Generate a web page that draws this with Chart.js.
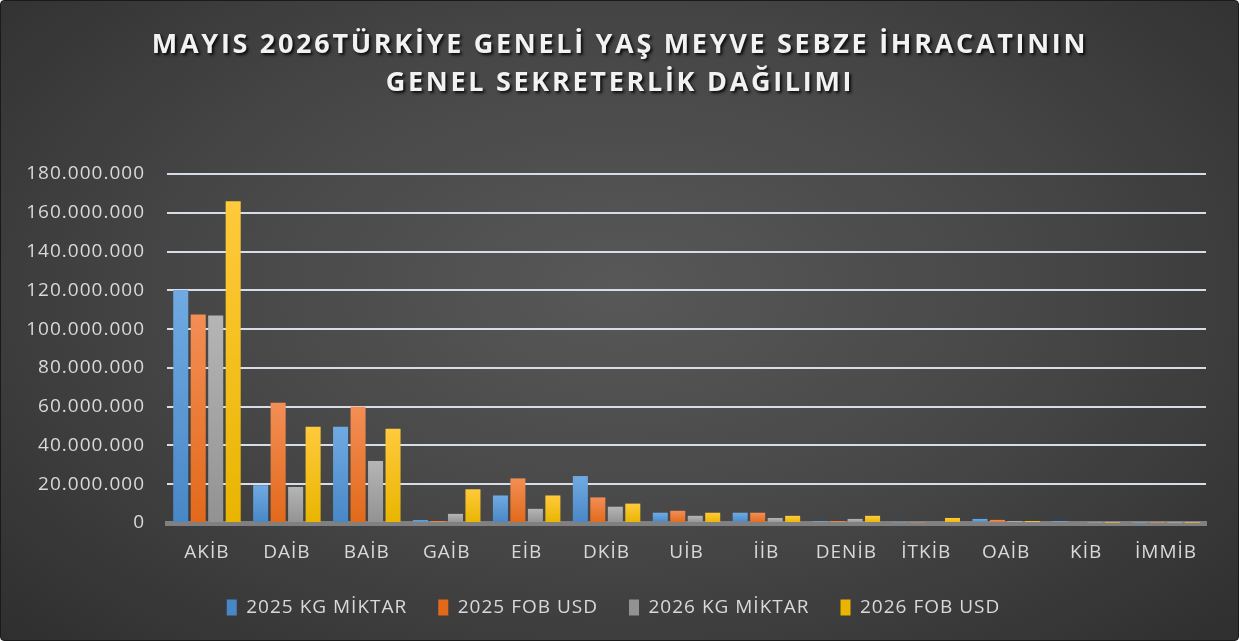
<!DOCTYPE html>
<html>
<head>
<meta charset="utf-8">
<script src="https://cdn.jsdelivr.net/npm/chart.js@4.4.1/dist/chart.umd.min.js"></script>
<style>
  html, body { margin: 0; padding: 0; background: #fff; }
  #wrap {
    width: 1237px; height: 639px;
    border: 1px solid #1a1a1a; border-radius: 4px;
    background: radial-gradient(ellipse 75% 85% at 50% 45%, #585858 0%, #474747 45%, #2b2b2b 100%);
    overflow: hidden;
  }
</style>
</head>
<body>
<div id="wrap"><canvas id="chart" width="1237" height="639"></canvas></div>
<script>
const titleLines = ['MAYIS 2026TÜRKİYE GENELİ YAŞ MEYVE SEBZE İHRACATININ', 'GENEL SEKRETERLİK DAĞILIMI'];
const categories = ['AKİB', 'DAİB', 'BAİB', 'GAİB', 'EİB', 'DKİB', 'UİB', 'İİB', 'DENİB', 'İTKİB', 'OAİB', 'KİB', 'İMMİB'];
const seriesNames = ['2025 KG MİKTAR', '2025 FOB USD', '2026 KG MİKTAR', '2026 FOB USD'];
const kg2025  = [120200000, 19500000, 49700000, 1500000, 14200000, 24200000, 5300000, 5300000, 1000000, 300000, 2100000, 1000000, 200000];
const fob2025 = [107600000, 62000000, 60000000, 1000000, 23000000, 13200000, 6300000, 5300000, 1000000, 300000, 1600000, 500000, 200000];
const kg2026  = [107000000, 18600000, 32000000, 4700000, 7300000, 8400000, 3700000, 2600000, 2100000, 500000, 1000000, 300000, 200000];
const fob2026 = [166000000, 49700000, 48600000, 17400000, 14200000, 10000000, 5300000, 3700000, 3700000, 2600000, 1000000, 200000, 200000];
const colors = ['#5b9bd5', '#ed7d31', '#a5a5a5', '#ffc000'];
const topColors = ['#70aae2', '#f38e55', '#b5b5b5', '#ffca3c'];
const bottomColors = ['#4887c6', '#e2691a', '#929292', '#e9b500'];

function fmt(v) {
  return String(Math.round(v)).replace(/\B(?=(\d{3})+(?!\d))/g, '.');
}

// lighter at the top of each bar, darker at the base
function barFill(i) {
  return function(c) {
    const chart = c.chart;
    const area = chart.chartArea;
    if (!area || c.type !== 'data' || !chart.scales.y) return colors[i];
    const top = chart.scales.y.getPixelForValue(c.raw);
    const g = chart.ctx.createLinearGradient(0, top, 0, area.bottom);
    g.addColorStop(0, topColors[i]);
    g.addColorStop(1, bottomColors[i]);
    return g;
  };
}

// wider letter spacing for all the chart text (like the original Calibri look)
const spacingPlugin = {
  id: 'spacing',
  beforeUpdate(chart) { chart.ctx.letterSpacing = '1px'; },
  beforeDraw(chart) { chart.ctx.letterSpacing = '1px'; }
};

// title drawn with letter spacing and a soft shadow
const titlePlugin = {
  id: 'spacedTitle',
  afterDraw(chart) {
    const ctx = chart.ctx;
    ctx.save();
    ctx.font = 'bold 27px "Open Sans"';
    ctx.letterSpacing = '2.7px';
    ctx.fillStyle = '#f2f2f2';
    ctx.textAlign = 'center';
    ctx.textBaseline = 'middle';
    ctx.shadowColor = 'rgba(0,0,0,0.85)';
    ctx.shadowOffsetX = 2;
    ctx.shadowOffsetY = 2;
    ctx.shadowBlur = 3;
    ctx.fillText(titleLines[0], 619, 44);
    ctx.fillText(titleLines[1], 619, 82);
    ctx.restore();
  }
};

const ctx = document.getElementById('chart').getContext('2d');
const data = [kg2025, fob2025, kg2026, fob2026];
const myChart = new Chart(ctx, {
  type: 'bar',
  data: {
    labels: categories,
    datasets: seriesNames.map((name, i) => ({
      label: name,
      data: data[i],
      backgroundColor: barFill(i),
      borderWidth: 0,
      categoryPercentage: 0.875, // groups fill most of each slot
      barPercentage: 0.86
    }))
  },
  options: {
    responsive: false,
    animation: false,
    layout: {
      padding: { top: 173, left: 20, right: 32, bottom: 13 }
    },
    plugins: {
      legend: {
        position: 'bottom',
        labels: {
          color: '#d9d9d9',
          boxWidth: 10,
          boxHeight: 16,
          padding: 31,
          font: { family: 'Open Sans', size: 19 }
        }
      },
      tooltip: { enabled: false }
    },
    scales: {
      y: {
        min: 0,
        max: 180000000,
        afterFit: function(scale) {
          scale.width = 146;
        },
        ticks: {
          stepSize: 20000000,
          color: '#d9d9d9',
          padding: 22,
          font: { family: 'Open Sans', size: 19 },
          callback: function(value) {
            return fmt(value);
          }
        },
        grid: {
          color: '#d6dde6',
          lineWidth: 2,
          drawTicks: false
        },
        border: { display: false }
      },
      x: {
        afterFit: function(scale) {
          scale.height = 44;
        },
        ticks: {
          color: '#d9d9d9',
          padding: 18,
          font: { family: 'Open Sans', size: 19 }
        },
        grid: { display: false, drawTicks: false },
        border: { color: '#808080', width: 5 }
      }
    }
  },
  plugins: [spacingPlugin, titlePlugin]
});
</script>
</body>
</html>
